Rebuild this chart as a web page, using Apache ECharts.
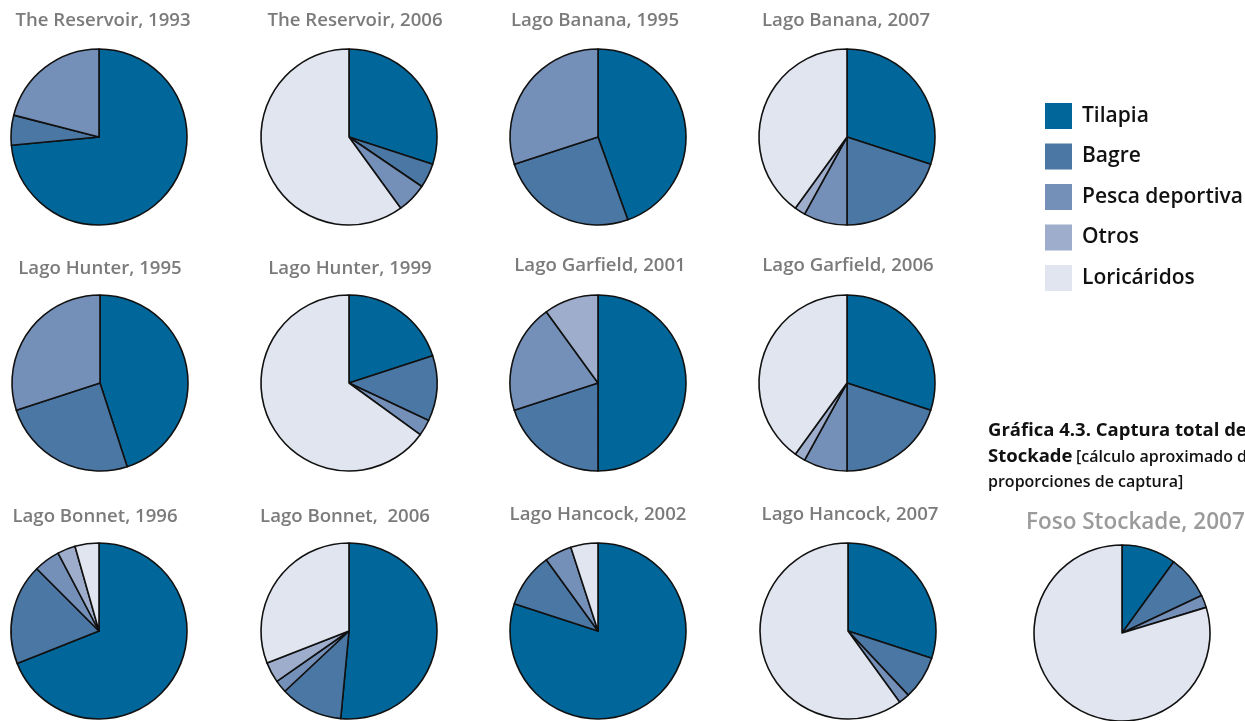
<!DOCTYPE html>
<html>
<head>
<meta charset="utf-8">
<title>Captura por especie</title>
<script src="https://cdn.jsdelivr.net/npm/echarts@6/dist/echarts.min.js"></script>
<style>
  html, body { margin: 0; padding: 0; background: #fff; }
  #chart { width: 1245px; height: 721px; }
</style>
</head>
<body>
<div id="chart"></div>
<script>
// Species (legend order) and their fill colours
const species = ['Tilapia', 'Bagre', 'Pesca deportiva', 'Otros', 'Loricáridos'];
const speciesColors = ['#016699', '#4a77a4', '#7590b8', '#9dadcb', '#e0e5ef'];

// One title per pie (lake, year)
const pieTitles = [
  'The Reservoir, 1993', 'The Reservoir, 2006', 'Lago Banana, 1995', 'Lago Banana, 2007',
  'Lago Hunter, 1995', 'Lago Hunter, 1999', 'Lago Garfield, 2001', 'Lago Garfield, 2006',
  'Lago Bonnet, 1996', 'Lago Bonnet,  2006', 'Lago Hancock, 2002', 'Lago Hancock, 2007',
  'Foso Stockade, 2007'
];

// Share of the catch (%) for each species, one value per pie
const tilapia     = [73.5, 30,  44.5, 30, 45, 20, 50, 30, 69,   51.5, 80, 30, 10];
const bagre       = [5.5,  4.5, 25.5, 20, 25, 12, 20, 20, 18.5, 11.5, 10, 8,  8];
const pesca       = [21,   5.5, 30,   8,  30, 3,  20, 8,  4.8,  2.3,  5,  2,  2.3];
const otros       = [0,    0,   0,    2,  0,  0,  10, 2,  3.3,  3.8,  0,  0,  0];
const loricaridos = [0,    60,  0,    40, 0,  65, 0,  40, 4.4,  30.9, 5,  60, 79.7];

// Layout: pie centres and title anchors
const pieCenters = [
  [99, 137], [349, 137], [598, 137], [847, 137],
  [100, 383], [349, 383], [598, 383], [847, 383],
  [99, 631], [349, 631], [598, 631], [848, 631],
  [1122, 633]
];
const titleAnchors = [
  [103, 11], [355, 11], [595, 11], [846, 11],
  [100, 259], [350, 259], [600, 256], [848, 256],
  [95, 507], [345, 507], [598, 505], [850, 505],
  [1026, 511]
];

const seriesValues = [tilapia, bagre, pesca, otros, loricaridos];
const FONT = '"Open Sans", "Noto Sans", sans-serif';

const series = pieCenters.map((c, i) => ({
  type: 'pie',
  center: c,
  radius: [0, 88],
  startAngle: 90,
  clockwise: true,
  silent: true,
  animation: false,
  label: { show: false },
  labelLine: { show: false },
  itemStyle: { borderColor: '#111', borderWidth: 1.6 },
  data: species
    .map((name, k) => ({ name, value: seriesValues[k][i], itemStyle: { color: speciesColors[k] } }))
    .filter(d => d.value > 0)
}));

const titles = pieTitles.map((t, i) => {
  const last = i === pieTitles.length - 1;
  return {
    text: t,
    left: titleAnchors[i][0],
    top: titleAnchors[i][1],
    textAlign: last ? 'left' : 'center',
    padding: 0,
    textStyle: {
      fontFamily: FONT,
      fontSize: last ? 22.5 : 18.6,
      fontWeight: 600,
      color: last ? '#9b9b9b' : '#7b7b7b'
    }
  };
});

const chart = echarts.init(document.getElementById('chart'), null, { renderer: 'canvas' });
chart.setOption({
  backgroundColor: '#ffffff',
  animation: false,
  title: titles,
  legend: {
    orient: 'vertical',
    left: 1045,
    top: 103,
    padding: 0,
    itemWidth: 27,
    itemHeight: 26,
    itemGap: 14.5,
    icon: 'rect',
    selectedMode: false,
    data: species,
    itemStyle: { borderWidth: 0 },
    textStyle: { fontFamily: FONT, fontSize: 21, fontWeight: 600, color: '#111', padding: [4, 0, 0, 5] }
  },
  graphic: [
    { type: 'text', left: 988, top: 421,
      style: { text: 'Gráfica 4.3. Captura total del', font: 'bold 18.5px "Open Sans"', fill: '#111' } },
    { type: 'text', left: 988, top: 447,
      style: { text: 'Stockade', font: 'bold 18.5px "Open Sans"', fill: '#111' } },
    { type: 'text', left: 1076, top: 449,
      style: { text: '[cálculo aproximado de', font: '600 16px "Open Sans"', fill: '#111' } },
    { type: 'text', left: 988, top: 474,
      style: { text: 'proporciones de captura]', font: '600 16px "Open Sans"', fill: '#111' } }
  ],
  series: series
});
</script>
</body>
</html>
